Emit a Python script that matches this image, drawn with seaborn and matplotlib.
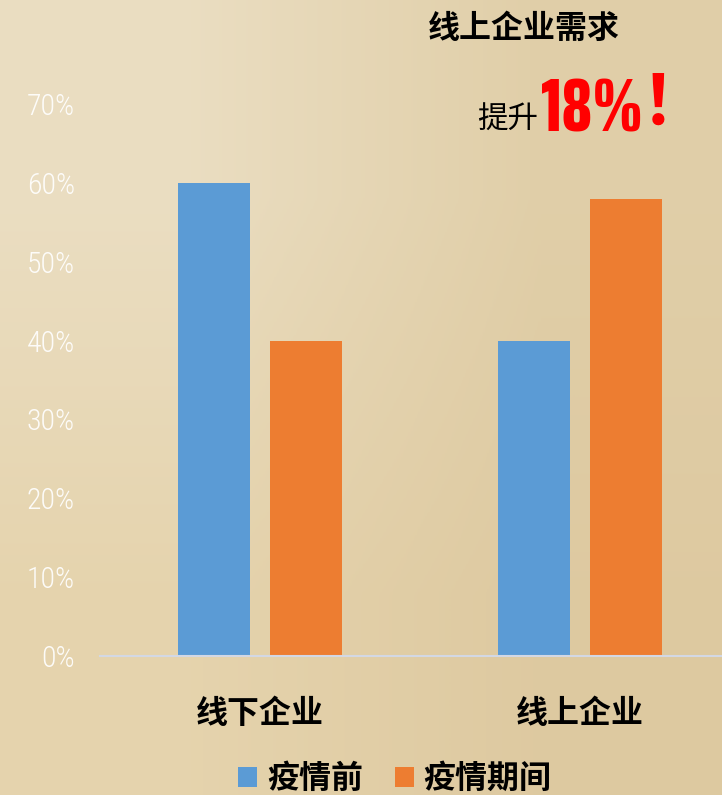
import numpy as np
import pandas as pd
import matplotlib
matplotlib.use('Agg')
import matplotlib.pyplot as plt
from matplotlib.patches import Patch
import seaborn as sns

# ── data ─────────────────────────────────────────────
categories = ['线下企业', '线上企业']
series = ['疫情前', '疫情期间']
before = [0.60, 0.40]
during = [0.40, 0.58]
yticks = [0.0, 0.1, 0.2, 0.3, 0.4, 0.5, 0.6, 0.7]
ytick_labels = ['0%', '10%', '20%', '30%', '40%', '50%', '60%', '70%']
colors = ['#5B9BD5', '#ED7D31']

df = pd.DataFrame({
    'cat': categories * 2,
    'series': [series[0]] * 2 + [series[1]] * 2,
    'value': before + during,
})

sns.set_theme(style='white')
plt.rcParams['font.family'] = ['Noto Sans CJK SC', 'DejaVu Sans']
plt.rcParams['text.color'] = 'black'

W, H = 722, 795
fig = plt.figure(figsize=(W / 100, H / 100), dpi=100)

# parchment-ish background (corner colours, smoothly blended)
bg = fig.add_axes([0, 0, 1, 1], zorder=-10)
corners = np.array([[[0.92, 0.87, 0.76], [0.88, 0.81, 0.66]],
                    [[0.90, 0.83, 0.68], [0.87, 0.79, 0.63]]])
bg.imshow(corners, extent=[0, 1, 0, 1], aspect='auto', interpolation='bilinear')
bg.axis('off')

# axes: x from 100px, y from 656px (0%) to 104px (70%)
left, right = 100, W
bottom, top = 656, 104
ax = fig.add_axes([left / W, 1 - bottom / H, (right - left) / W, (bottom - top) / H])
ax.patch.set_alpha(0)

sns.barplot(data=df, x='cat', y='value', hue='series', palette=colors,
            width=0.575, gap=0.228, ax=ax, legend=False, saturation=1,
            linewidth=0, edgecolor='none')

ax.set_xlim(-0.5, -0.5 + (right - left) / 320)
ax.set_ylim(0, 0.7)
ax.set_yticks(yticks)
ax.set_yticklabels(ytick_labels, color='white', alpha=0.92, fontsize=21.5,
                   family=['Roboto Condensed'], fontweight=300)
ax.tick_params(axis='y', length=0, pad=18)
ax.tick_params(axis='x', length=0, pad=30)
for lbl in ax.get_xticklabels():
    lbl.set_fontsize(23)
    lbl.set_fontweight('heavy')
    lbl.set_color('black')
ax.set_xlabel('')
ax.set_ylabel('')
for s in ['top', 'right', 'left']:
    ax.spines[s].set_visible(False)
ax.spines['bottom'].set_color('#D3D8E4')
ax.spines['bottom'].set_linewidth(1.5)

# legend
handles = [Patch(facecolor=c, edgecolor='none') for c in colors]
leg = fig.legend(handles, series, loc='center', bbox_to_anchor=(395 / W, 1 - 779 / H),
                 ncol=2, frameon=False, handlelength=0.6, handleheight=0.6,
                 handletextpad=0.3, columnspacing=1.0,
                 prop={'family': ['Noto Sans CJK SC'], 'weight': 'heavy', 'size': 23})
for t in leg.get_texts():
    t.set_color('black')

# annotation
fig.text(524 / W, 1 - 29 / H, '线上企业需求', ha='center', va='center',
         fontsize=23, fontweight='heavy', color='black')
fig.text(538 / W, 1 - 120 / H, '提升', ha='right', va='center',
         fontsize=22, color='black')
fig.text(541 / W, 1 - 132 / H, '18%', ha='left', va='baseline',
         fontsize=54, fontweight=800, color='#FF0000',
         family=['Saira ExtraCondensed'])
fig.text(676 / W, 1 - 104 / H, '！', ha='center', va='center',
         fontsize=50, fontweight='heavy', color='#FF0000',
         family=['Noto Sans CJK SC'])

fig.savefig('out.png', dpi=100)
plt.close(fig)
